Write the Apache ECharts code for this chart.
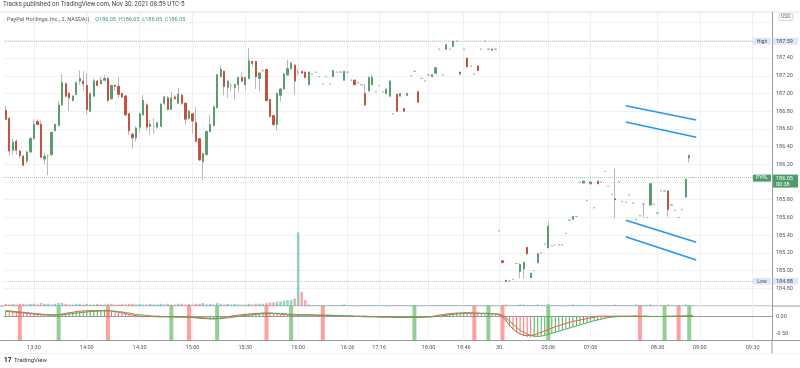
<!DOCTYPE html>
<html><head><meta charset="utf-8">
<script src="https://cdn.jsdelivr.net/npm/echarts@6/dist/echarts.min.js"></script>
<style>html,body{margin:0;padding:0;background:#fff}#c{width:800px;height:368px}</style>
</head><body><div id="c"></div>
<script>
// ---- DATA ----
// candles: [open, close, low, high]; single value = flat bar (O=H=L=C)
const candles = [
[186.81,186.71,186.70,186.86],[186.72,186.35,186.30,186.73],[186.36,186.45,186.31,186.49],[186.46,186.36,186.31,186.48],[186.35,186.30,186.27,186.36],
[186.29,186.19,186.18,186.31],[186.24,186.34,186.21,186.35],[186.34,186.49,186.33,186.51],[186.49,186.65,186.48,186.71],[186.68,186.65,186.64,186.71],
[186.65,186.28,186.27,186.69],[186.26,186.29,186.20,186.33],[186.30,186.30,186.08,186.31],[186.31,186.56,186.29,186.57],[186.58,186.65,186.57,186.66],
[186.64,186.87,186.63,186.91],[186.87,187.12,186.86,187.22],[187.11,186.97,186.95,187.12],[187.00,186.95,186.80,187.02],[186.92,186.97,186.91,186.98],
[186.99,187.12,186.98,187.14],[187.14,187.17,187.10,187.26],[187.14,187.11,187.03,187.25],[187.09,186.82,186.76,187.23],[186.80,187.00,186.79,187.01],
[186.97,187.14,186.96,187.17],[187.14,187.09,187.08,187.15],[187.11,187.15,187.10,187.19],[187.15,187.17,187.14,187.21],[187.17,186.92,186.91,187.19],
[186.94,187.09,186.93,187.10],[187.09,187.08,187.03,187.10],[187.08,186.99,186.95,187.19],[187.00,186.96,186.95,187.01],[186.97,186.76,186.74,186.99],
[186.77,186.58,186.53,186.78],[186.54,186.50,186.38,186.55],[186.50,186.61,186.46,186.63],[186.62,186.77,186.56,186.78],[186.76,186.92,186.75,186.98],
[186.87,186.62,186.58,186.89],[186.63,186.65,186.53,186.70],[186.63,186.63,186.54,186.72],[186.62,186.67,186.60,186.68],[186.63,186.88,186.62,186.89],
[186.89,186.96,186.87,186.97],[186.95,186.82,186.81,186.97],[186.82,186.95,186.81,187.02],[186.96,186.94,186.93,186.98],[186.89,186.99,186.88,187.06],
[186.98,186.89,186.87,187.00],[186.89,186.71,186.65,186.90],[186.72,186.80,186.70,186.81],[186.77,186.69,186.55,186.78],[186.67,186.46,186.45,186.85],
[186.49,186.25,186.24,186.50],[186.23,186.32,186.02,186.33],[186.31,186.57,186.30,186.58],[186.57,186.65,186.56,186.76],[186.64,186.85,186.63,186.86],
[186.84,187.21,186.83,187.22],[187.19,187.27,187.18,187.31],[187.25,187.08,186.98,187.26],[187.07,187.14,186.95,187.15],[187.09,187.09,187.03,187.12],
[187.07,187.10,186.93,187.11],[187.10,187.18,187.01,187.19],[187.18,187.14,187.13,187.24],[187.10,187.18,187.04,187.19],[187.17,187.37,187.16,187.51],
[187.36,187.34,187.30,187.37],[187.36,187.19,187.05,187.37],[187.17,187.23,187.03,187.24],[187.26,187.26,187.24,187.27],[187.27,186.92,186.91,187.28],
[186.93,186.74,186.73,186.94],[186.75,186.65,186.62,186.76],[186.65,187.00,186.58,187.01],[186.98,187.05,186.91,187.06],[187.05,187.22,187.04,187.23],
[187.21,187.28,187.20,187.38],[187.28,187.34,187.27,187.36],[187.32,187.14,186.99,187.33],[187.24,187.24,187.20,187.28],[187.25,187.23,187.23,187.25],
[187.24,187.18,187.18,187.25],[187.10,187.24,187.09,187.25],[187.22],[187.24],[187.19],
[187.11],[187.19],[187.11],[187.19,187.26,187.19,187.26],[187.24],
[187.24],[187.15,187.25,187.15,187.25],[187.24],[187.15],[187.15,187.10,187.10,187.15],
[187.12],[187.10],[187.00,186.87,186.86,187.11],[187.03,187.18,187.02,187.19],[187.10,187.18,187.09,187.21],
[187.02],[187.09],[187.02],[187.00,187.05,187.00,187.05],[186.97,187.14,186.97,187.14],
[186.77],[186.99,186.80,186.80,186.99],[186.97,187.00,186.97,187.00],[186.83,186.80,186.80,186.83],[186.98,187.00,186.98,187.00],
[187.20],[187.25],[187.02,186.90,186.90,187.02],[187.17],[187.14],
[187.21],[187.19,187.21,187.19,187.21],[187.23,187.29,187.23,187.29],[187.50],[187.21],
[187.50,187.55,187.50,187.55],[187.50],[187.53,187.59,187.53,187.59],[187.59],[187.24,187.22,187.22,187.24],
[187.50],[187.40,187.30,187.30,187.40],[187.31],[187.22],[187.31,187.26,187.26,187.31],
[187.50],[187.59],[187.50],[187.50,187.49,187.49,187.50],[187.50],
[185.45],[185.11,185.09,185.09,185.11],[184.89,184.88,184.88,184.89],[184.88],[184.90],
[185.08],[184.99,185.07,184.91,185.08],[185.02,185.09,184.91,185.10],[185.26,185.19,185.19,185.26],[184.92,184.97,184.92,184.97],
[185.00],[185.09,185.19,185.08,185.20],[185.20],[185.30],[185.26,185.50,185.25,185.55],
[185.28],[185.29],[185.29],[185.29],[185.42],
[185.57],[185.58,185.61,185.58,185.61],[185.61],[186.00],[185.99,186.01,185.99,186.01],
[185.79],[185.98,186.00,185.98,186.00],[185.71],[186.01,185.98,185.98,186.01],[186.00],
[186.12],[185.95],[185.86],[185.81,185.80,185.59,186.15],[186.00],
[185.78],[185.77],[185.85],[185.76],[185.58],
[185.62],[185.75,185.75,185.60,185.75],[185.60],[185.74,185.98,185.74,185.98],[185.75],
[185.65],[185.90],[185.90],[185.90,185.69,185.61,185.90],[185.74],
[185.68],[185.60],[185.69],[185.83,186.03,185.82,186.04],[186.27,186.30,186.22,186.31],
[186.05]
];

const volumes = [
3,2,3,2,3,3,2,3,3,2,4,3,3,2,3,4,4,3,2,2,
3,3,2,3,2,2,3,2,2,3,3,2,2,3,2,3,3,2,3,2,
2,3,2,2,3,2,3,2,2,3,3,2,3,2,3,3,4,2,3,2,
4,3,2,3,2,3,2,2,2,3,2,3,3,3,4,5,5,6,6,7,
8,8,10,100,19,8,2,1,1,1,1,1,1,1,1,1,2,1,1,1,
1,1,1,1,1,1,1,1,1,1,1,1,1,1,1,1,1,1,1,1,
1,1,1,1,1,1,1,1,1,1,1,1,1,1,1,1,1,1,1,1,
1,1,2,1,1,1,2,2,1,1,1,2,1,1,3,1,1,1,1,1,
1,2,1,1,1,1,1,1,1,1,1,1,1,2,1,1,1,1,1,2,
1,1,1,2,1,1,1,1,2,1,1,1,1,2,1,1
];

const macdHist = [
0.17,0.15,0.14,0.13,0.12,0.11,0.10,0.09,0.08,0.07,0.06,0.05,0.05,0.04,0.04,
0.05,0.07,0.09,0.11,0.13,0.14,0.15,0.16,0.17,0.17,0.18,0.18,0.18,0.19,
0.17,0.15,0.13,0.11,0.09,0.07,0.05,0.03,0.01,
0.00,-0.01,0.00,0.01,0.00,-0.01,-0.02,-0.01,0.00,-0.01,-0.02,-0.02,-0.01,-0.02,-0.03,-0.04,-0.05,
-0.06,-0.07,-0.08,-0.08,-0.07,
-0.06,-0.04,-0.02,0.00,0.02,0.04,0.05,0.06,0.07,0.08,0.09,0.10,0.10,0.11,0.11,
0.10,0.09,0.07,0.06,0.05,0.04,0.03,
0.03,0.04,0.04,0.05,0.05,0.05,0.04,0.04,0.03,
0.03,0.02,0.02,0.02,0.01,0.01,0.01,0.00,0.00,0.00,-0.01,-0.01,-0.01,-0.01,-0.02,-0.02,-0.02,-0.02,-0.02,-0.03,-0.03,
-0.03,-0.03,-0.03,-0.02,-0.02,-0.02,-0.01,-0.01,0.00,
0.01,0.03,0.05,0.07,0.08,0.09,0.10,0.11,0.11,
0.11,0.11,0.10,0.10,0.09,0.09,0.08,0.08,0.07,0.06,0.05,
-0.02,-0.15,-0.28,-0.38,-0.46,-0.52,-0.56,-0.59,-0.60,-0.59,-0.58,-0.55,-0.53,-0.50,-0.47,-0.44,-0.41,-0.38,-0.35,-0.32,-0.29,-0.26,-0.23,-0.20,-0.17,-0.15,-0.12,-0.10,-0.08,-0.06,-0.04,
-0.02,-0.01,0.00,0.00,0.01,0.01,0.01,0.01,0.00,0.00,
0.00,0.00,0.01,0.00,0.00,0.01,0.01,0.01,0.00,0.01,0.02,0.02,0.03,0.04
];

const fastLine = [
0.15,0.14,0.13,0.12,0.11,0.10,0.09,0.08,0.07,0.06,0.05,0.05,0.04,0.04,0.04,
0.05,0.07,0.09,0.11,0.12,0.14,0.15,0.16,0.16,0.17,0.17,0.17,0.17,0.17,
0.17,0.16,0.14,0.12,0.10,0.08,0.06,0.04,0.02,
0.01,0.00,0.00,0.00,0.00,-0.01,-0.01,-0.01,-0.01,-0.01,-0.01,-0.02,-0.02,-0.02,-0.03,-0.03,-0.04,
-0.05,-0.06,-0.06,-0.07,-0.07,
-0.06,-0.05,-0.03,-0.01,0.01,0.03,0.04,0.05,0.06,0.07,0.08,0.09,0.09,0.10,0.10,
0.10,0.09,0.08,0.07,0.06,0.05,0.04,
0.04,0.04,0.04,0.04,0.04,0.04,0.04,0.04,0.03,
0.03,0.03,0.02,0.02,0.02,0.01,0.01,0.01,0.00,0.00,0.00,-0.01,-0.01,-0.01,-0.01,-0.02,-0.02,-0.02,-0.02,-0.02,-0.03,
-0.03,-0.03,-0.03,-0.03,-0.02,-0.02,-0.02,-0.01,-0.01,
0.00,0.02,0.04,0.05,0.07,0.08,0.09,0.10,0.10,
0.11,0.11,0.11,0.10,0.10,0.09,0.09,0.08,0.08,0.07,0.06,
0.00,-0.12,-0.25,-0.36,-0.44,-0.50,-0.54,-0.55,-0.54,-0.52,-0.49,-0.45,-0.41,-0.37,-0.33,-0.29,-0.26,-0.23,-0.20,-0.17,-0.14,-0.12,-0.10,-0.08,-0.06,-0.04,-0.02,0.00,0.01,0.01,0.01,
0.01,0.01,0.01,0.01,0.01,0.01,0.01,0.01,0.00,0.00,
0.00,0.00,0.00,0.00,0.00,0.00,0.01,0.01,0.01,0.01,0.01,0.02,0.02,0.03
];

const slowLine = [
0.16,0.16,0.15,0.14,0.13,0.12,0.11,0.10,0.09,0.08,0.07,0.06,0.06,0.05,0.05,
0.05,0.05,0.06,0.07,0.08,0.10,0.11,0.12,0.13,0.14,0.15,0.15,0.16,0.16,
0.16,0.16,0.15,0.14,0.13,0.11,0.10,0.08,0.06,
0.05,0.04,0.03,0.02,0.01,0.01,0.00,0.00,0.00,-0.01,-0.01,-0.01,-0.01,-0.01,-0.02,-0.02,-0.03,
-0.03,-0.04,-0.05,-0.05,-0.06,
-0.06,-0.06,-0.05,-0.04,-0.03,-0.01,0.00,0.02,0.03,0.04,0.05,0.06,0.07,0.08,0.08,
0.09,0.09,0.09,0.08,0.08,0.07,0.06,
0.06,0.05,0.05,0.05,0.05,0.05,0.04,0.04,0.04,
0.04,0.04,0.03,0.03,0.03,0.02,0.02,0.02,0.01,0.01,0.01,0.01,0.00,0.00,0.00,-0.01,-0.01,-0.01,-0.01,-0.02,-0.02,
-0.02,-0.02,-0.02,-0.02,-0.02,-0.02,-0.02,-0.02,-0.01,
-0.01,0.00,0.01,0.02,0.03,0.05,0.06,0.07,0.08,
0.08,0.09,0.09,0.09,0.09,0.09,0.09,0.09,0.08,0.08,0.07,
0.03,-0.05,-0.13,-0.22,-0.31,-0.39,-0.45,-0.50,-0.54,-0.56,-0.57,-0.56,-0.54,-0.51,-0.48,-0.45,-0.42,-0.39,-0.36,-0.33,-0.30,-0.27,-0.24,-0.21,-0.18,-0.15,-0.12,-0.10,-0.08,-0.05,-0.03,
-0.02,-0.01,0.00,0.00,0.00,0.00,0.01,0.01,0.01,0.01,
0.01,0.00,0.00,0.00,0.00,0.00,0.00,0.00,0.01,0.01,0.01,0.01,0.02,0.02
];

// signal markers (bar index, 0-based)
const buySignals  = [15,47,60,81,116,137,154,187,194];
const sellSignals = [4,29,52,74,90,133,141,180,191];

// time axis tick labels
const timeTickIndex = [8,23,38,53,68,83,97,106,120,130,140,154,166,185,197,212];
const timeTickText  = ['13:30','14:00','14:30','15:00','15:30','16:00','16:26','17:16','18:00','18:46','30','05:06','07:06','08:30','09:00','09:30'];

// price labels / levels
const priceLevels = [['High',187.59],['PYPL',186.05],['Low',184.88]];
const lastBarTimer = '00:38';
// drawn trend lines: [startIndex, startPrice, endIndex, endPrice]
const trendLines = [
  [176,186.862,196,186.700],
  [176,186.678,196,186.505],
  [176,185.568,196,185.319],
  [176,185.382,196,185.119]
];

// ---- BUILD ----
const N = 218;
const cats = Array.from({length: N}, (_, i) => String(i));
const rows = candles.map(r => r.length === 1 ? [r[0], r[0], r[0], r[0]] : r);
const wickData = rows.map(r => r.slice());
const bodyData = rows.map(([o, c]) => [o, c, Math.min(o, c), Math.max(o, c)]);
const volData = volumes.map((v, i) => ({
  value: v,
  itemStyle: {color: rows[i][1] >= rows[i][0] ? 'rgba(38,166,154,0.5)' : 'rgba(239,83,80,0.5)'}
}));
const histData = macdHist.map((v, i) => ({
  value: v,
  itemStyle: {color: (i === 0 || v >= macdHist[i - 1]) ? '#4caf50' : '#ff6b6b'}
}));
const sigData = Array(N).fill('-');
buySignals.forEach(i => sigData[i] = {value: 1, itemStyle: {color: 'rgba(76,175,80,0.6)'}});
sellSignals.forEach(i => sigData[i] = {value: 1, itemStyle: {color: 'rgba(255,82,82,0.55)'}});

const tickSet = new Set(timeTickIndex);
const tickFn = (i) => tickSet.has(i);
const tickLabel = (v, i) => { const k = timeTickIndex.indexOf(Number(v)); return k >= 0 ? timeTickText[k] : ''; };

const gridColor = '#eef0f4';
const axisColor = '#9a9da5';
const FONT = 'Roboto';

const levelLines = [
  {yAxis: priceLevels[0][1], lineStyle: {type: 'dotted', color: '#c3c6cd', width: 1}},
  {yAxis: priceLevels[1][1], lineStyle: {type: 'dotted', color: '#9dc4aa', width: 1}},
  {yAxis: priceLevels[2][1], lineStyle: {type: 'dotted', color: '#c3c6cd', width: 1}}
];
const trendMarks = trendLines.map(t => [
  {coord: [t[0], t[1]], lineStyle: {type: 'solid', color: '#2196f3', width: 1.5}},
  {coord: [t[2], t[3]]}
]);

const chart = echarts.init(document.getElementById('c'), null, {renderer: 'canvas'});
const option = {
  animation: false,
  backgroundColor: '#ffffff',
  textStyle: {fontFamily: FONT},
  grid: [
    {left: 4, right: 28, top: 12, height: 294},
    {left: 4, right: 28, top: 306, height: 34.5}
  ],
  xAxis: [
    {type: 'category', gridIndex: 0, data: cats, axisLine: {show: false}, axisTick: {show: false},
     axisLabel: {show: false}, splitLine: {show: true, interval: tickFn, alignWithLabel: true, lineStyle: {color: gridColor, width: 1}}},
    {type: 'category', gridIndex: 1, data: cats, axisLine: {show: true, lineStyle: {color: axisColor}}, axisTick: {show: false},
     axisLabel: {interval: tickFn, formatter: tickLabel, fontSize: 5.5, color: '#555', margin: 4, fontFamily: FONT},
     splitLine: {show: true, interval: tickFn, alignWithLabel: true, lineStyle: {color: gridColor, width: 1}}},
    {type: 'category', gridIndex: 1, data: cats, show: false}
  ],
  yAxis: [
    {type: 'value', gridIndex: 0, position: 'right', min: 184.6, max: 187.92, interval: 0.2, scale: true,
     axisLine: {show: true, lineStyle: {color: axisColor}}, axisTick: {show: false},
     axisLabel: {showMinLabel: false, showMaxLabel: false, formatter: v => (v > 187.7 ? '' : v.toFixed(2)), fontSize: 5.5, color: '#555', margin: 4, fontFamily: FONT},
     splitLine: {show: true, lineStyle: {color: gridColor, width: 1}}},
    {type: 'value', gridIndex: 0, min: 0, max: 400, show: false},
    {type: 'value', gridIndex: 1, position: 'right', min: -0.686, max: 0.3,
     axisLine: {show: true, lineStyle: {color: axisColor}}, axisTick: {show: false},
     axisLabel: {customValues: [0, -0.5], formatter: v => v.toFixed(2), fontSize: 5.5, color: '#555', margin: 4, fontFamily: FONT},
     splitLine: {show: false}},
    {type: 'value', gridIndex: 1, min: 0, max: 1, show: false}
  ],
  series: [
    {type: 'bar', name: 'vol', xAxisIndex: 0, yAxisIndex: 1, data: volData, barWidth: 2.5, z: 1, silent: true},
    {type: 'candlestick', name: 'wick', xAxisIndex: 0, yAxisIndex: 0, data: wickData, barWidth: 1.7, z: 3, silent: true,
     itemStyle: {color: 'rgba(0,0,0,0)', color0: 'rgba(0,0,0,0)', borderColor: '#b6b8be', borderColor0: '#b6b8be', borderColorDoji: '#b6b8be', borderWidth: 1},
     markLine: {symbol: ['none', 'none'], silent: true, animation: false, label: {show: false}, data: trendMarks}},
    {type: 'candlestick', name: 'body', xAxisIndex: 0, yAxisIndex: 0, data: bodyData, barWidth: 1.7, z: 4, silent: true,
     itemStyle: {color: '#5b9d6e', color0: '#c4523f', borderColor: '#5b9d6e', borderColor0: '#c4523f', borderColorDoji: '#9cc4a7', borderWidth: 1},
     markLine: {symbol: ['none', 'none'], silent: true, animation: false, label: {show: false}, z: 2, data: levelLines}},
    {type: 'bar', name: 'signals', xAxisIndex: 2, yAxisIndex: 3, data: sigData, barWidth: 4, z: 1, silent: true},
    {type: 'bar', name: 'hist', xAxisIndex: 1, yAxisIndex: 2, data: histData, barWidth: 1, z: 2, silent: true},
    {type: 'line', name: 'fast', xAxisIndex: 1, yAxisIndex: 2, data: fastLine, symbol: 'none', z: 3, silent: true,
     lineStyle: {color: '#ff5252', width: 1}},
    {type: 'line', name: 'slow', xAxisIndex: 1, yAxisIndex: 2, data: slowLine, symbol: 'none', z: 3, silent: true,
     lineStyle: {color: '#4caf50', width: 1}}
  ],
  graphic: [
    {type: 'text', left: 3, top: 1, style: {text: 'Tracks published on TradingView.com, Nov 30, 2021 08:59 UTC-5', fontSize: 6.3, fill: '#444', fontFamily: FONT}},
    {type: 'line', shape: {x1: 0, y1: 12, x2: 800, y2: 12}, style: {stroke: '#e0e3eb', lineWidth: 1}},
    {type: 'text', left: 7, top: 14, style: {
      text: '{a|PayPal Holdings, Inc., 2, NASDAQ}  {b|O186.05  H186.05  L186.05  C186.05}',
      fontFamily: FONT,
      rich: {a: {fontSize: 5.6, fill: '#555', fontFamily: FONT}, b: {fontSize: 5.5, fill: '#3f9a63', fontFamily: FONT}}
    }},
    {type: 'line', shape: {x1: 0, y1: 306, x2: 800, y2: 306}, style: {stroke: '#9a9da5', lineWidth: 1}},
    {type: 'line', shape: {x1: 0, y1: 340.5, x2: 800, y2: 340.5}, style: {stroke: '#9a9da5', lineWidth: 1}},
    {type: 'line', shape: {x1: 772, y1: 340, x2: 772, y2: 354}, style: {stroke: '#9a9da5', lineWidth: 1}},
    {type: 'line', shape: {x1: 0, y1: 353.5, x2: 800, y2: 353.5}, style: {stroke: '#eef0f4', lineWidth: 1}},
    {type: 'rect', shape: {x: 779, y: 13.5, width: 14, height: 7, r: 2}, style: {fill: 'none', stroke: '#b0b3ba', lineWidth: 0.6}},
    {type: 'text', left: 781, top: 14.5, style: {text: 'USD', fontSize: 5, fill: '#666', fontFamily: FONT}},
    {type: 'text', left: 4, top: 357, style: {text: '17', fontSize: 6.5, fontWeight: 'bold', fill: '#131722', fontFamily: FONT}},
    {type: 'text', left: 14, top: 357, style: {text: 'TradingView', fontSize: 6, fill: '#333', fontFamily: FONT}}
  ]
};
chart.setOption(option);

// price badges placed through the price axis scale
const badges = [];
priceLevels.forEach(([name, val]) => {
  const y = chart.convertToPixel({yAxisIndex: 0}, val);
  const isLast = name === 'PYPL';
  const bg = isLast ? '#4e9c6a' : '#dde9f8';
  const fg = isLast ? '#ffffff' : '#3b4660';
  const top = isLast ? y - 3 : y - 3.5;
  badges.push({type: 'rect', shape: {x: 753, y: top, width: 18, height: 7}, style: {fill: bg}, z: 10});
  badges.push({type: 'text', x: 762, y: top + 3.6, style: {text: name, fontSize: 5, fill: fg, align: 'center', verticalAlign: 'middle', fontFamily: FONT}, z: 11});
  const h = isLast ? 13 : 7;
  badges.push({type: 'rect', shape: {x: 773, y: top, width: 25, height: h}, style: {fill: bg}, z: 10});
  badges.push({type: 'text', x: 776, y: top + 3.6, style: {text: val.toFixed(2), fontSize: 5.5, fill: fg, verticalAlign: 'middle', fontFamily: FONT}, z: 11});
  if (isLast) badges.push({type: 'text', x: 776, y: top + 9.6, style: {text: lastBarTimer, fontSize: 5.5, fill: fg, verticalAlign: 'middle', fontFamily: FONT}, z: 11});
});
chart.setOption({graphic: option.graphic.concat(badges)});
</script>
</body></html>
